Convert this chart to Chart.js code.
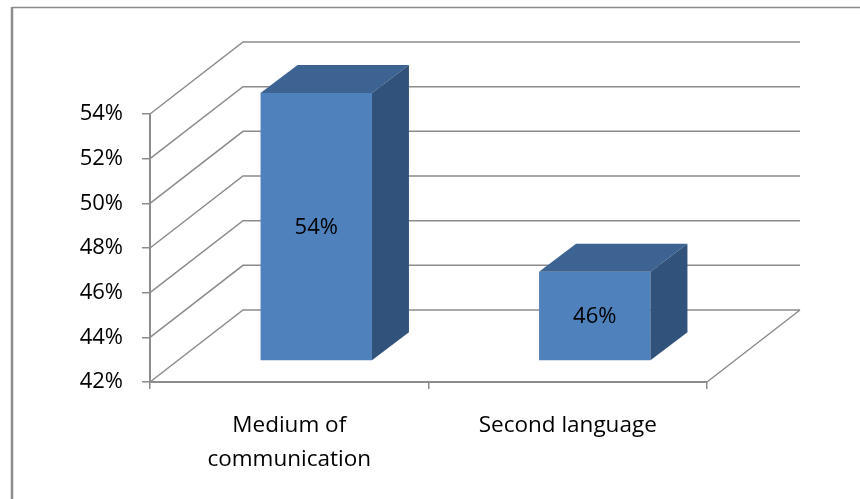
<!DOCTYPE html>
<html>
<head>
<meta charset="utf-8">
<script src="https://cdn.jsdelivr.net/npm/chart.js@4/dist/chart.umd.min.js"></script>
<style>
  html, body { margin: 0; padding: 0; background: #ffffff; }
  #wrap { position: relative; width: 860px; height: 499px; }
</style>
</head>
<body>
<div id="wrap"><canvas id="chart"></canvas></div>
<script>
const categories = [["Medium of", "communication"], "Second language"];
const values = [54, 46];
const valueLabels = ["54%", "46%"];
const yTickValues = [42, 44, 46, 48, 50, 52, 54];

const FONT = "'Open Sans', 'Liberation Sans', sans-serif";
const GRID = "#8c8c8c";
const FRONT = "#4f81bd";
const TOP = "#3c6391";
const SIDE = "#31527b";

// 3d look: wall depth, bar position in the floor, bar depth
const WALL = { dx: 93, dy: -72 };
const BAR_SHIFT = { dx: 27, dy: -21 };
const BAR_DEPTH = { dx: 37, dy: -28 };

const frame = {
  id: "frame",
  beforeDraw(chart) {
    const ctx = chart.ctx;
    ctx.save();
    ctx.fillStyle = "#ffffff";
    ctx.fillRect(0, 0, chart.width, chart.height);
    ctx.strokeStyle = GRID;
    ctx.lineWidth = 1.5;
    ctx.beginPath();
    ctx.moveTo(12, 7.5);
    ctx.lineTo(chart.width, 7.5);
    ctx.stroke();
    ctx.lineWidth = 2.5;
    ctx.beginPath();
    ctx.moveTo(12, 7);
    ctx.lineTo(12, chart.height);
    ctx.stroke();
    ctx.restore();
  }
};

const walls = {
  id: "walls",
  beforeDatasetsDraw(chart) {
    const ctx = chart.ctx;
    const y = chart.scales.y;
    const a = chart.chartArea;
    ctx.save();
    ctx.strokeStyle = GRID;
    ctx.lineWidth = 1.5;
    ctx.beginPath();
    yTickValues.forEach((v) => {
      const py = y.getPixelForValue(v);
      ctx.moveTo(a.left, py);
      ctx.lineTo(a.left + WALL.dx, py + WALL.dy);
      ctx.lineTo(a.right + WALL.dx, py + WALL.dy);
    });
    ctx.moveTo(a.right, a.bottom);
    ctx.lineTo(a.right + WALL.dx, a.bottom + WALL.dy);
    ctx.stroke();
    ctx.restore();

    ctx.save();
    ctx.translate(BAR_SHIFT.dx, BAR_SHIFT.dy);
  },
  afterDatasetsDraw(chart) {
    const ctx = chart.ctx;
    ctx.restore();

    const meta = chart.getDatasetMeta(0);
    ctx.save();
    meta.data.forEach((bar, i) => {
      const p = bar.getProps(["x", "y", "base", "width"], true);
      const l = p.x - p.width / 2 + BAR_SHIFT.dx;
      const r = p.x + p.width / 2 + BAR_SHIFT.dx;
      const t = p.y + BAR_SHIFT.dy;
      const b = p.base + BAR_SHIFT.dy;

      ctx.fillStyle = TOP;
      ctx.beginPath();
      ctx.moveTo(l, t);
      ctx.lineTo(l + BAR_DEPTH.dx, t + BAR_DEPTH.dy);
      ctx.lineTo(r + BAR_DEPTH.dx, t + BAR_DEPTH.dy);
      ctx.lineTo(r, t);
      ctx.closePath();
      ctx.fill();

      ctx.fillStyle = SIDE;
      ctx.beginPath();
      ctx.moveTo(r, t);
      ctx.lineTo(r + BAR_DEPTH.dx, t + BAR_DEPTH.dy);
      ctx.lineTo(r + BAR_DEPTH.dx, b + BAR_DEPTH.dy);
      ctx.lineTo(r, b);
      ctx.closePath();
      ctx.fill();

      ctx.fillStyle = "#000000";
      ctx.font = "22px " + FONT;
      ctx.textAlign = "center";
      ctx.textBaseline = "middle";
      ctx.fillText(valueLabels[i], (l + r) / 2, (t + b) / 2 + 1);
    });
    ctx.restore();
  }
};

new Chart(document.getElementById("chart"), {
  type: "bar",
  data: {
    labels: categories,
    datasets: [{
      data: values,
      base: yTickValues[0],
      backgroundColor: FRONT,
      borderWidth: 0,
      categoryPercentage: 1,
      barPercentage: 0.4,
      clip: false
    }]
  },
  options: {
    responsive: true,
    maintainAspectRatio: false,
    animation: false,
    events: [],
    layout: { padding: { left: 0, right: 153, top: 114, bottom: 0 } },
    plugins: {
      legend: { display: false },
      tooltip: { enabled: false }
    },
    scales: {
      x: {
        grid: { drawOnChartArea: false, drawTicks: true, tickLength: 7, color: GRID, lineWidth: 1.5 },
        border: { display: true, color: GRID, width: 2 },
        ticks: {
          color: "#000000",
          font: { family: FONT, size: 22.5, lineHeight: "34px" },
          padding: 20,
          maxRotation: 0,
          autoSkip: false
        },
        afterFit(scale) { scale.height = 117; }
      },
      y: {
        min: 42,
        max: 54,
        afterBuildTicks(scale) {
          scale.ticks = yTickValues.map((v) => ({ value: v }));
        },
        grid: { drawOnChartArea: false, drawTicks: true, tickLength: 8, color: GRID, lineWidth: 1.5 },
        border: { display: true, color: GRID, width: 2 },
        ticks: {
          color: "#000000",
          font: { family: FONT, size: 22 },
          padding: 19,
          callback: (v) => v + "%"
        },
        afterFit(scale) { scale.width = 150; }
      }
    }
  },
  plugins: [frame, walls]
});
</script>
</body>
</html>
